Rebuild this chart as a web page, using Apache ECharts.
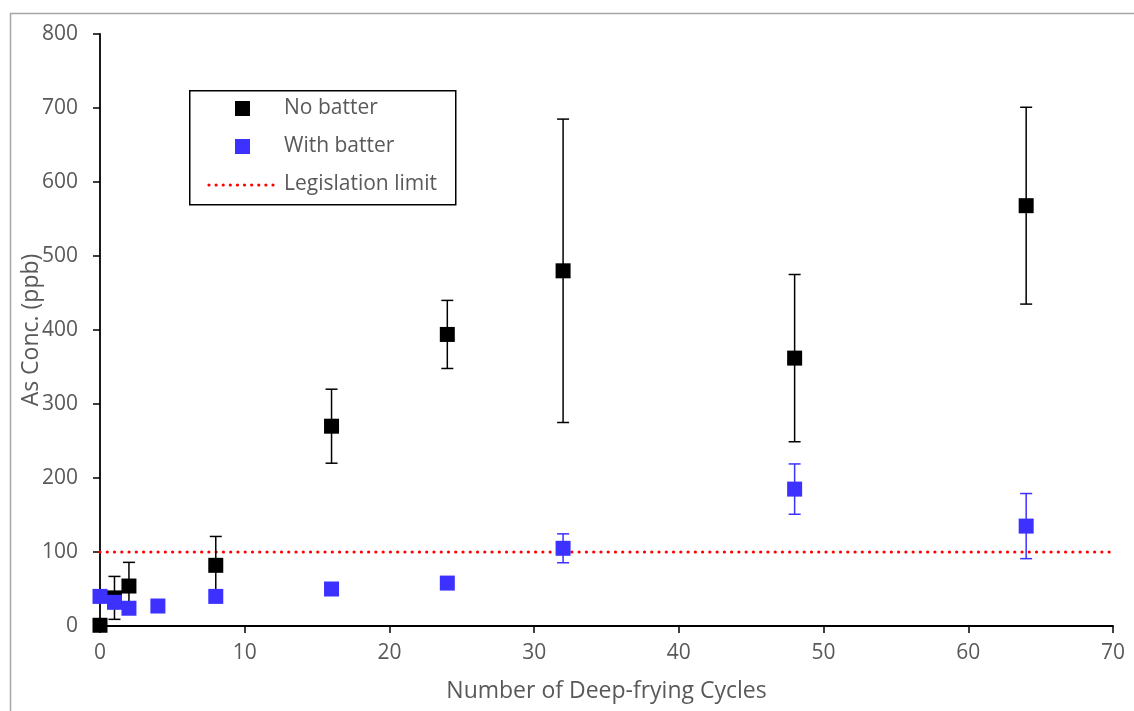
<!DOCTYPE html>
<html>
<head>
<meta charset="utf-8">
<script src="https://cdn.jsdelivr.net/npm/echarts@6/dist/echarts.min.js"></script>
<style>
html,body{margin:0;padding:0;background:#fff;}
#chart{width:1134px;height:711px;}
</style>
</head>
<body>
<div id="chart"></div>
<script>
// Data
const noBatterX = [0, 1, 2, 8, 16, 24, 32, 48, 64];
const noBatterY = [1, 38, 54, 82, 270, 394, 480, 362, 568];
const noBatterErr = [0, 29, 32, 39, 50, 46, 205, 113, 133];
const withBatterX = [0, 1, 2, 4, 8, 16, 24, 32, 48, 64];
const withBatterY = [40, 32, 24, 27, 40, 50, 58, 105, 185, 135];
const withBatterErr = [0, 0, 0, 0, 0, 0, 0, 19.5, 34, 44];
const legislationLimit = 100;
const xTicks = [0, 10, 20, 30, 40, 50, 60, 70];
const yTicks = [0, 100, 200, 300, 400, 500, 600, 700, 800];
const seriesNames = ['No batter', 'With batter', 'Legislation limit'];

const BLACK = '#000000';
const BLUE = '#3D31FF';
const RED = '#FF0000';
const LABEL = '#595959';
const FONT = 'Open Sans';

function pairs(xs, ys, es) {
  return xs.map((x, i) => es ? [x, ys[i], es[i]] : [x, ys[i]]);
}

function errorRender(color) {
  return function (params, api) {
    const x = api.value(0), y = api.value(1), e = api.value(2);
    if (!(e > 0)) return null;
    const top = api.coord([x, y + e]);
    const bot = api.coord([x, y - e]);
    const hw = 6;
    const style = { stroke: color, lineWidth: 1.5, fill: null };
    return {
      type: 'group',
      children: [
        { type: 'line', shape: { x1: top[0], y1: top[1], x2: bot[0], y2: bot[1] }, style },
        { type: 'line', shape: { x1: top[0] - hw, y1: top[1], x2: top[0] + hw, y2: top[1] }, style },
        { type: 'line', shape: { x1: bot[0] - hw, y1: bot[1], x2: bot[0] + hw, y2: bot[1] }, style }
      ]
    };
  };
}

const chart = echarts.init(document.getElementById('chart'), null, { renderer: 'canvas' });

const axisLabelStyle = { color: LABEL, fontFamily: FONT, fontSize: 21 };
const legendFont = '21px "Open Sans"';

chart.setOption({
  backgroundColor: '#ffffff',
  animation: false,
  grid: { left: 100, right: 21, top: 34, bottom: 85, containLabel: false },
  xAxis: {
    type: 'value',
    min: xTicks[0], max: xTicks[xTicks.length - 1], interval: 10,
    name: 'Number of Deep-frying Cycles',
    nameLocation: 'middle', nameGap: 54, nameMoveOverlap: false,
    nameTextStyle: { color: LABEL, fontFamily: FONT, fontSize: 23 },
    axisLine: { onZero: false, lineStyle: { color: '#000', width: 1.8 } },
    axisTick: { show: true, length: 7, lineStyle: { color: '#000', width: 1.5 } },
    axisLabel: Object.assign({ margin: 17 }, axisLabelStyle),
    splitLine: { show: false }
  },
  yAxis: {
    type: 'value',
    min: yTicks[0], max: yTicks[yTicks.length - 1], interval: 100,
    name: 'As Conc. (ppb)',
    nameLocation: 'middle', nameGap: 57, nameMoveOverlap: false,
    nameTextStyle: { color: LABEL, fontFamily: FONT, fontSize: 23 },
    axisLine: { show: true, onZero: false, lineStyle: { color: '#000', width: 1.8 } },
    axisTick: { show: true, length: 7, lineStyle: { color: '#000', width: 1.5 } },
    axisLabel: Object.assign({ margin: 22 }, axisLabelStyle),
    splitLine: { show: false }
  },
  series: [
    {
      name: seriesNames[2],
      type: 'line',
      data: [[xTicks[0], legislationLimit], [xTicks[xTicks.length - 1], legislationLimit]],
      symbol: 'none',
      lineStyle: { color: RED, width: 3.2, type: [0.01, 7.25], cap: 'round' },
      z: 1
    },
    {
      name: 'No batter err',
      type: 'custom',
      renderItem: errorRender(BLACK),
      data: pairs(noBatterX, noBatterY, noBatterErr),
      encode: { x: 0, y: 1 },
      z: 2
    },
    {
      name: seriesNames[0],
      type: 'scatter',
      data: pairs(noBatterX, noBatterY),
      symbol: 'rect',
      symbolSize: 15,
      itemStyle: { color: BLACK, opacity: 1 },
      z: 3
    },
    {
      name: 'With batter err',
      type: 'custom',
      renderItem: errorRender(BLUE),
      data: pairs(withBatterX, withBatterY, withBatterErr),
      encode: { x: 0, y: 1 },
      z: 4
    },
    {
      name: seriesNames[1],
      type: 'scatter',
      data: pairs(withBatterX, withBatterY),
      symbol: 'rect',
      symbolSize: 15,
      itemStyle: { color: BLUE, opacity: 1 },
      z: 5
    }
  ],
  graphic: [
    { type: 'rect', left: 8, top: 11, shape: { width: 1200, height: 800 }, style: { fill: null, stroke: '#a6a6a6', lineWidth: 1.5 }, silent: true, z: -10 },
    { type: 'rect', left: 189, top: 90, shape: { width: 266, height: 114 }, style: { fill: '#fff', stroke: '#000', lineWidth: 1.5 }, z: 50 },
    { type: 'rect', left: 235, top: 101, shape: { width: 15, height: 15 }, style: { fill: BLACK }, z: 51 },
    { type: 'text', x: 284, y: 108, style: { text: seriesNames[0], fill: LABEL, font: legendFont, verticalAlign: 'middle' }, z: 51 },
    { type: 'rect', left: 235, top: 139, shape: { width: 15, height: 15 }, style: { fill: BLUE }, z: 51 },
    { type: 'text', x: 284, y: 146, style: { text: seriesNames[1], fill: LABEL, font: legendFont, verticalAlign: 'middle' }, z: 51 },
    { type: 'line', shape: { x1: 209, y1: 185, x2: 277, y2: 185 }, style: { stroke: RED, lineWidth: 3.2, lineDash: [0.01, 7.1], lineCap: 'round' }, z: 51 },
    { type: 'text', x: 284, y: 184, style: { text: seriesNames[2], fill: LABEL, font: legendFont, verticalAlign: 'middle' }, z: 51 }
  ]
});
</script>
</body>
</html>
